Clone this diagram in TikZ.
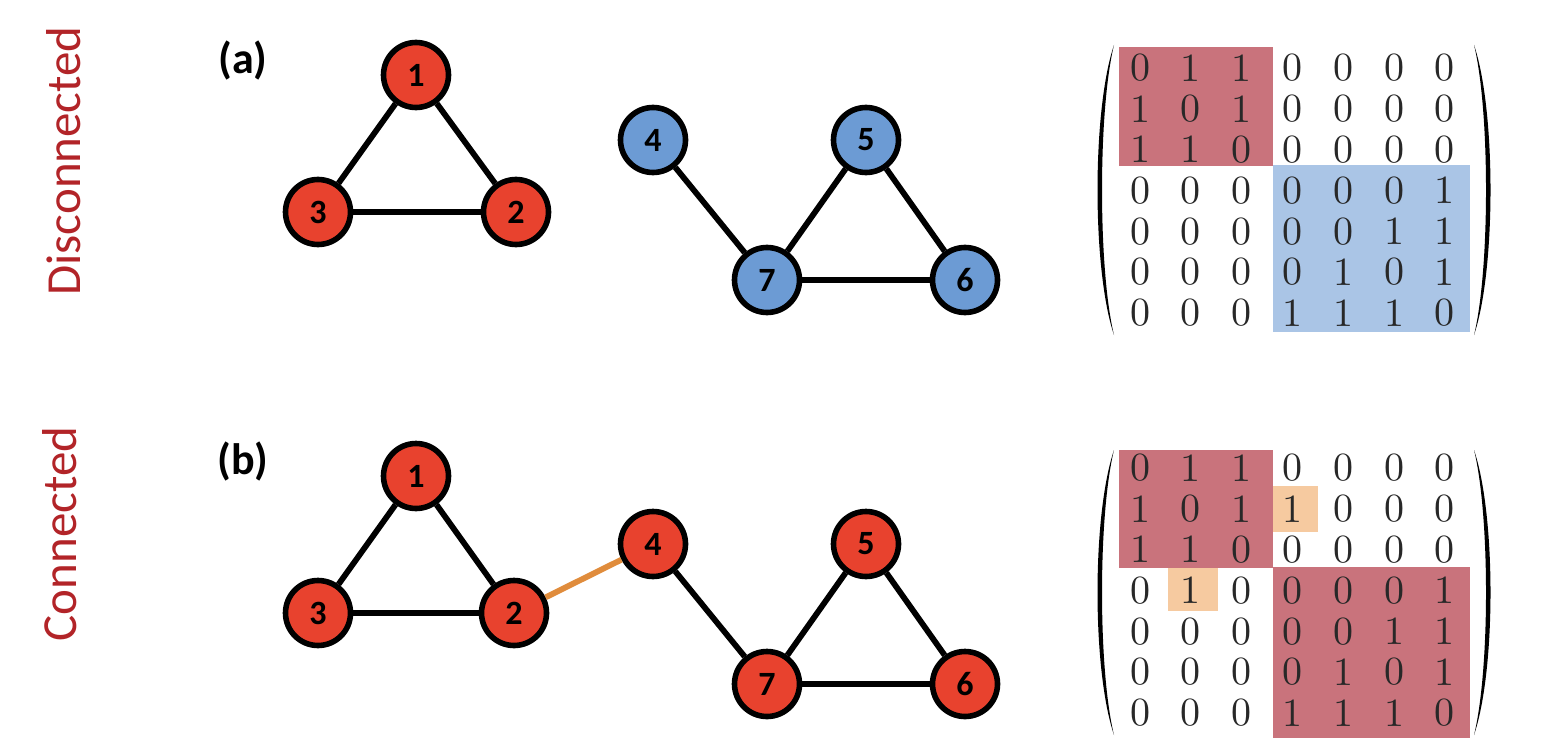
\documentclass[tikz,border=0pt]{standalone}
\usepackage{fontspec}
\newfontfamily\calib{Carlito}
\newfontfamily\lmten{lmroman10-regular}[Extension=.otf]
\definecolor{nodered}{RGB}{232,66,46}
\definecolor{nodeblue}{RGB}{108,155,212}
\definecolor{boxred}{RGB}{201,115,124}
\definecolor{boxblue}{RGB}{170,197,230}
\definecolor{boxorange}{RGB}{246,202,160}
\definecolor{edgeorange}{RGB}{224,140,60}
\definecolor{labred}{RGB}{178,36,40}
\definecolor{digit}{RGB}{40,40,40}
\begin{document}
\begin{tikzpicture}[x=0.5pt,y=-0.5pt,
  vert/.style={circle,draw=black,line width=2.8pt,minimum size=32.5pt,inner sep=0pt,
    font=\calib\fontsize{17}{17}\selectfont\bfseries},
  rv/.style={vert,fill=nodered},
  bv/.style={vert,fill=nodeblue},
  edge/.style={line width=2.9pt,black},
  oedge/.style={line width=2.9pt,edgeorange},
  panel/.style={font=\calib\fontsize{22}{22}\selectfont\bfseries},
  side/.style={font=\calib\fontsize{24.5}{24.5}\selectfont,text=labred,rotate=90},
  ent/.style={font=\lmten\fontsize{20}{20}\selectfont,text=digit,inner sep=0pt}]
\useasboundingbox (0,0) rectangle (1556,738);

% side labels
\node[side] (lda) at (64,161) {Disconnected};
\node[side] (ldb) at (60,534) {Connected};

% panel labels
\node[panel] (pa) at (243,61) {(a)};
\node[panel] (pb) at (243,461) {(b)};

% ---------- graph (a)
\node[rv] (a1) at (416,75) {1};
\node[rv] (a3) at (318,212) {3};
\node[rv] (a2) at (516,212) {2};
\node[bv] (a4) at (653,140) {4};
\node[bv] (a5) at (866,140) {5};
\node[bv] (a7) at (767,280) {7};
\node[bv] (a6) at (965,280) {6};
\draw[edge] (a1) -- (a3);
\draw[edge] (a1) -- (a2);
\draw[edge] (a3) -- (a2);
\draw[edge] (a4) -- (a7);
\draw[edge] (a5) -- (a7);
\draw[edge] (a5) -- (a6);
\draw[edge] (a7) -- (a6);

% ---------- graph (b)
\node[rv] (b1) at (416,476) {1};
\node[rv] (b3) at (318,613) {3};
\node[rv] (b2) at (514,613) {2};
\node[rv] (b4) at (653,544) {4};
\node[rv] (b5) at (866,544) {5};
\node[rv] (b7) at (767,684) {7};
\node[rv] (b6) at (965,684) {6};
\draw[edge] (b1) -- (b3);
\draw[edge] (b1) -- (b2);
\draw[edge] (b3) -- (b2);
\draw[oedge] (b2) -- (b4);
\draw[edge] (b4) -- (b7);
\draw[edge] (b5) -- (b7);
\draw[edge] (b5) -- (b6);
\draw[edge] (b7) -- (b6);

% ---------- matrix (a)
\fill[boxred] (1119,47) rectangle (1273,166);
\fill[boxblue] (1273,165) rectangle (1470,332);
\fill[black] (1114,45) .. controls (1092,110) and (1092,270) .. (1114,335)
  .. controls (1098,270) and (1098,110) .. (1114,45) -- cycle;
\fill[black] (1474,45) .. controls (1496,110) and (1496,270) .. (1474,335)
  .. controls (1490,270) and (1490,110) .. (1474,45) -- cycle;
\foreach \row [count=\r] in {{0,1,1,0,0,0,0},{1,0,1,0,0,0,0},{1,1,0,0,0,0,0},{0,0,0,0,0,0,1},{0,0,0,0,0,1,1},{0,0,0,0,1,0,1},{0,0,0,1,1,1,0}}{
  \pgfmathsetmacro{\yy}{68+40.8*(\r-1)}
  \foreach \v [count=\c] in \row {
    \pgfmathsetmacro{\xx}{1140+50.8*(\c-1)}
    \node[ent] (ma-\r-\c) at (\xx,\yy) {\v};
  }
}

% ---------- matrix (b)
\fill[boxred] (1119,450) rectangle (1273,568);
\fill[boxred] (1273,567) rectangle (1470,738);
\fill[boxorange] (1273,486) rectangle (1318,532);
\fill[boxorange] (1168,568) rectangle (1218,611);
\fill[black] (1114,450) .. controls (1092,515) and (1092,670) .. (1114,735)
  .. controls (1098,670) and (1098,515) .. (1114,450) -- cycle;
\fill[black] (1474,450) .. controls (1496,515) and (1496,670) .. (1474,735)
  .. controls (1490,670) and (1490,515) .. (1474,450) -- cycle;
\foreach \row [count=\r] in {{0,1,1,0,0,0,0},{1,0,1,1,0,0,0},{1,1,0,0,0,0,0},{0,1,0,0,0,0,1},{0,0,0,0,0,1,1},{0,0,0,0,1,0,1},{0,0,0,1,1,1,0}}{
  \pgfmathsetmacro{\yy}{468+40.8*(\r-1)}
  \foreach \v [count=\c] in \row {
    \pgfmathsetmacro{\xx}{1140+50.8*(\c-1)}
    \node[ent] (mb-\r-\c) at (\xx,\yy) {\v};
  }
}
\end{tikzpicture}
\end{document}
